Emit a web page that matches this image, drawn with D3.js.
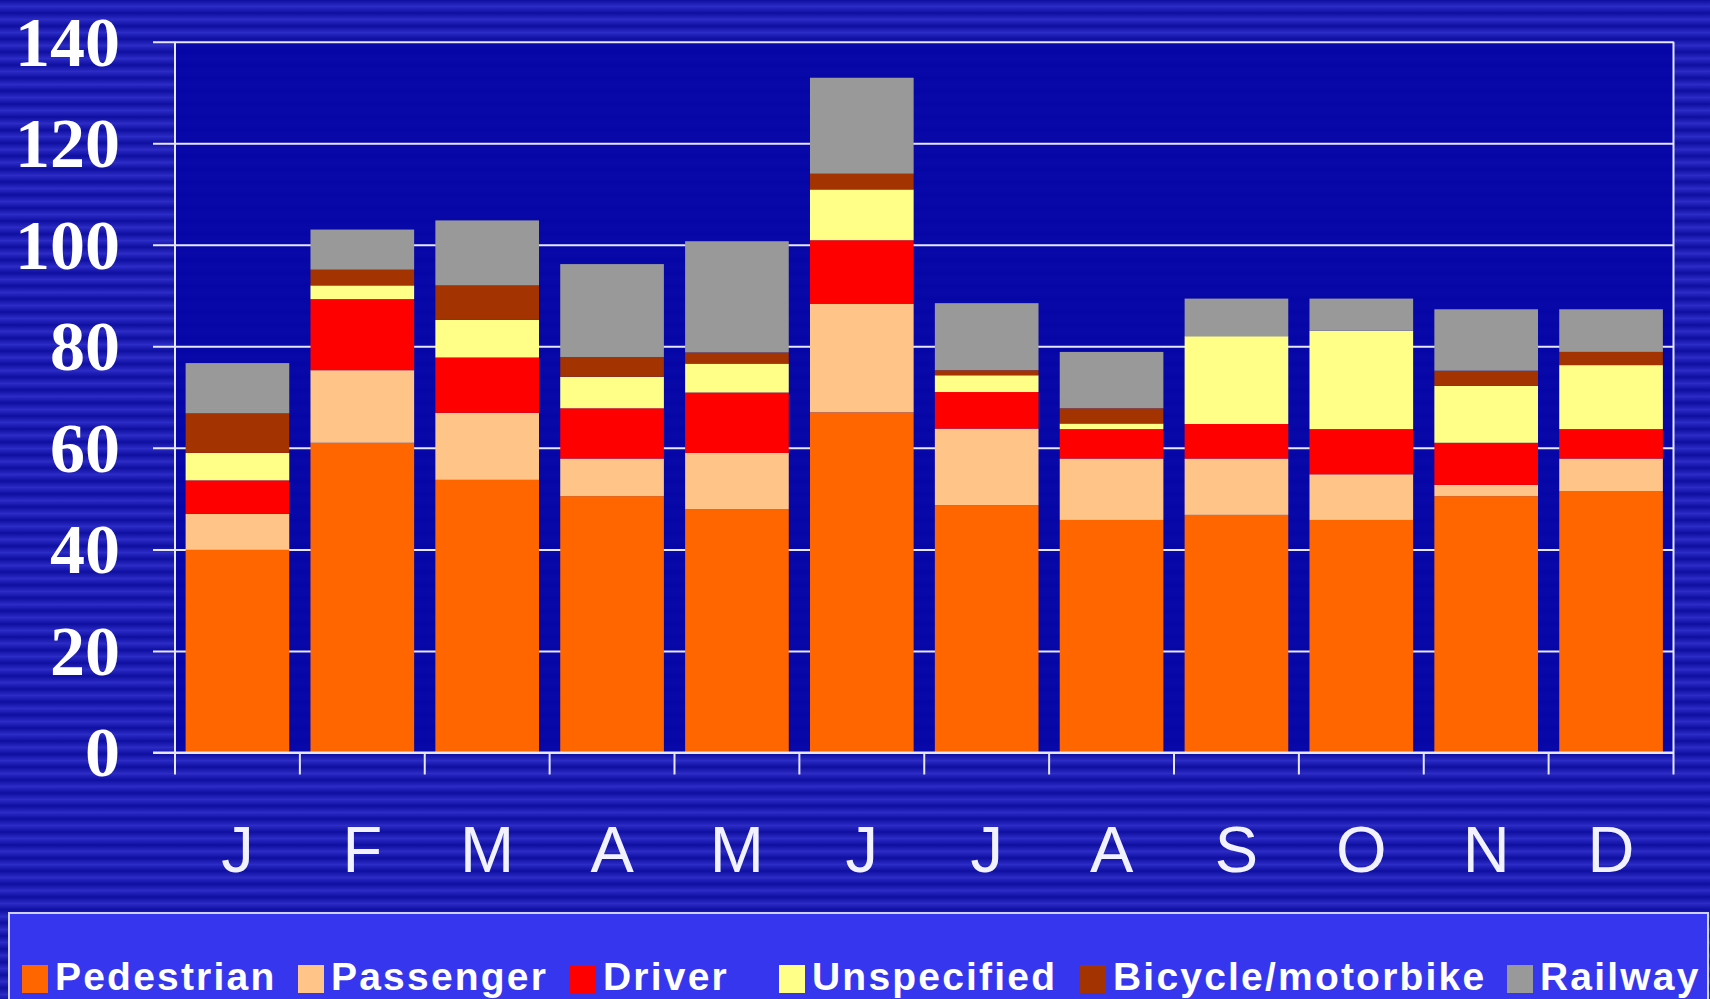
<!DOCTYPE html>
<html>
<head>
<meta charset="utf-8">
<script src="https://cdn.jsdelivr.net/npm/d3@7"></script>
<style>
  body { margin: 0; background: #10109f; overflow: hidden; }
  svg { display: block; }
</style>
</head>
<body>
<div id="chart"></div>
<script>

var months = ["J", "F", "M", "A", "M", "J", "J", "A", "S", "O", "N", "D"];
var series_names = ["Pedestrian", "Passenger", "Driver", "Unspecified", "Bicycle/motorbike", "Railway"];
var series_colours = ["#ff6600", "#ffc488", "#ff0000", "#ffff88", "#a33300", "#999999"];

var pedestrian = [40, 61, 53.7, 50.5, 47.9, 67, 48.7, 45.8, 46.8, 45.8, 50.5, 51.5];
var passenger = [7, 14.3, 13.2, 7.4, 11.1, 21.4, 15.1, 12.1, 11.1, 9.0, 2.2, 6.4];
var driver = [6.6, 14, 10.9, 9.9, 11.9, 12.5, 7.2, 5.8, 6.8, 8.9, 8.3, 5.8];
var unspecified = [5.4, 2.7, 7.4, 6.2, 5.7, 10.0, 3.3, 1.1, 17.3, 19.4, 11.2, 12.6];
var bicycle = [7.8, 3.1, 6.8, 3.9, 2.2, 3.1, 1.0, 3.0, 0, 0, 3.0, 2.6];
var railway = [9.9, 7.9, 12.8, 18.3, 21.9, 18.9, 13.2, 11.1, 7.4, 6.3, 12.1, 8.4];

var y_ticks = [0, 20, 40, 60, 80, 100, 120, 140];

var width = 1710,
  height = 999;

var plot = {
  left: 175,
  right: 1673.5,
  top: 41.7,
  bottom: 752.5
};

//Build one row per month for d3.stack
var series_values = [pedestrian, passenger, driver, unspecified, bicycle, railway];
var rows = months.map(function(m, i) {
  var row = { index: i };
  series_names.forEach(function(s, j) {
    row[s] = series_values[j][i];
  });
  return row;
});

var stacked = d3.stack().keys(series_names)(rows);

var x = d3.scaleBand()
  .domain(d3.range(months.length))
  .range([plot.left, plot.right])
  .paddingInner(0.17)
  .paddingOuter(0.085);

var y = d3.scaleLinear()
  .domain([0, 140])
  .range([plot.bottom, plot.top]);

var colour = d3.scaleOrdinal()
  .domain(series_names)
  .range(series_colours);

var svg = d3.select("#chart").append("svg")
  .attr("width", width)
  .attr("height", height);

//Striped slide background
var defs = svg.append("defs");
var grad = defs.append("linearGradient")
  .attr("id", "stripe_grad")
  .attr("x1", 0).attr("y1", 0).attr("x2", 0).attr("y2", 1);
grad.append("stop").attr("offset", "0%").attr("stop-color", "#0e0ea0");
grad.append("stop").attr("offset", "50%").attr("stop-color", "#2c2cc6");
grad.append("stop").attr("offset", "100%").attr("stop-color", "#0e0ea0");

defs.append("pattern")
  .attr("id", "stripes")
  .attr("patternUnits", "userSpaceOnUse")
  .attr("width", 20)
  .attr("height", 13)
  .append("rect")
  .attr("width", 20)
  .attr("height", 13)
  .attr("fill", "url(#stripe_grad)");

svg.append("rect")
  .attr("width", width)
  .attr("height", height)
  .attr("fill", "url(#stripes)");

//Plot area
svg.append("rect")
  .attr("x", plot.left)
  .attr("y", plot.top)
  .attr("width", plot.right - plot.left)
  .attr("height", plot.bottom - plot.top)
  .attr("fill", "#0505a6")
  .attr("opacity", 0.9);

//Gridlines (with the outer tick to the left)
var y_axis = d3.axisLeft(y)
  .tickValues(y_ticks)
  .tickSize(-(plot.right - plot.left))
  .tickFormat("");

svg.append("g")
  .attr("class", "grid")
  .attr("transform", "translate(" + plot.left + ",0)")
  .call(y_axis)
  .call(function(g) {
    g.select(".domain").remove();
    g.selectAll("line")
      .attr("x1", -22)
      .attr("stroke", "#e6e6ff")
      .attr("stroke-width", 2);
  });

//Bars
svg.append("g")
  .selectAll("g")
  .data(stacked)
  .join("g")
  .attr("fill", function(d) { return colour(d.key); })
  .selectAll("rect")
  .data(function(d) { return d; })
  .join("rect")
  .attr("x", function(d) { return x(d.data.index); })
  .attr("width", x.bandwidth())
  .attr("y", function(d) { return y(d[1]); })
  .attr("height", function(d) { return y(d[0]) - y(d[1]); });

//Y tick labels
svg.append("g")
  .selectAll("text")
  .data(y_ticks)
  .join("text")
  .attr("x", 120)
  .attr("y", function(d) { return y(d); })
  .attr("dy", "0.34em")
  .attr("text-anchor", "end")
  .style("font-family", "'Liberation Serif', 'Times New Roman', serif")
  .style("font-weight", "bold")
  .style("font-size", "70px")
  .attr("fill", "#ffffff")
  .text(function(d) { return d; });

//X axis line and boundary ticks
var boundaries = d3.range(months.length + 1).map(function(i) {
  return plot.left + i * (plot.right - plot.left) / months.length;
});

var axis_g = svg.append("g").attr("stroke", "#e6e6ff").attr("stroke-width", 2);

axis_g.append("line")
  .attr("x1", plot.left - 22)
  .attr("x2", plot.right)
  .attr("y1", y(0))
  .attr("y2", y(0));

axis_g.selectAll(".xtick")
  .data(boundaries)
  .join("line")
  .attr("class", "xtick")
  .attr("x1", function(d) { return d; })
  .attr("x2", function(d) { return d; })
  .attr("y1", function(d, i) { return (i === 0 || i === months.length) ? plot.top : y(0); })
  .attr("y2", y(0) + 22);

//Month labels
svg.append("g")
  .selectAll("text")
  .data(months)
  .join("text")
  .attr("x", function(d, i) { return x(i) + x.bandwidth() / 2; })
  .attr("y", 872)
  .attr("text-anchor", "middle")
  .style("font-family", "'Liberation Sans', Arial, sans-serif")
  .style("font-size", "65px")
  .attr("fill", "#f2f2ff")
  .text(function(d) { return d; });

//Legend
var legend_x = [22, 298, 570, 779, 1080, 1507];

var legend = svg.append("g");

legend.append("rect")
  .attr("x", 9)
  .attr("y", 913)
  .attr("width", 1699)
  .attr("height", 100)
  .attr("fill", "#3636ee")
  .attr("stroke", "#d0d0ff")
  .attr("stroke-width", 2);

var items = legend.selectAll(".item")
  .data(series_names)
  .join("g")
  .attr("class", "item")
  .attr("transform", function(d, i) { return "translate(" + legend_x[i] + ",0)"; });

items.append("rect")
  .attr("y", 965)
  .attr("width", 26)
  .attr("height", 28)
  .attr("fill", function(d) { return colour(d); });

items.append("text")
  .attr("x", 33)
  .attr("y", 990)
  .style("font-family", "'Liberation Sans', Arial, sans-serif")
  .style("font-weight", "bold")
  .style("font-size", "39px")
  .style("letter-spacing", "2.2px")
  .attr("fill", "#ffffff")
  .text(function(d) { return d; });

</script>
</body>
</html>
